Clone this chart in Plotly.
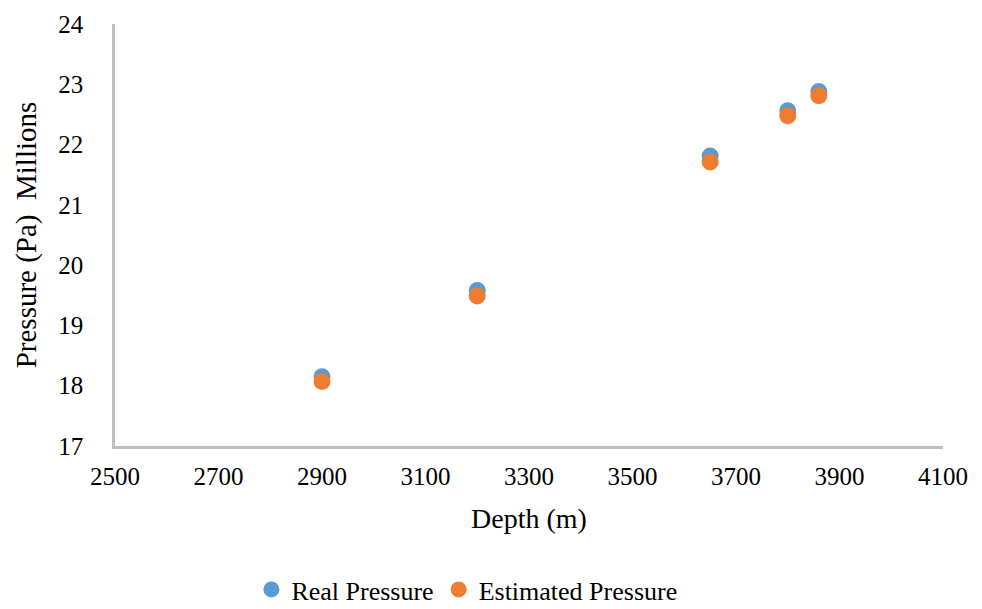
import plotly.graph_objects as go

depth = [2900, 3200, 3650, 3800, 3860]
real_pressure = [18.15, 19.58, 21.81, 22.56, 22.88]
estimated_pressure = [18.07, 19.49, 21.71, 22.48, 22.81]

x_ticks = [2500, 2700, 2900, 3100, 3300, 3500, 3700, 3900, 4100]
y_ticks = [17, 18, 19, 20, 21, 22, 23, 24]

FONT = "Liberation Serif, Times New Roman, serif"

fig = go.Figure()
fig.add_trace(go.Scatter(
    x=depth, y=real_pressure, mode="markers", name="Real Pressure",
    marker=dict(color="#5B9BD5", size=17, line=dict(width=0)),
))
fig.add_trace(go.Scatter(
    x=depth, y=estimated_pressure, mode="markers", name="Estimated Pressure",
    marker=dict(color="#ED7D31", size=17, line=dict(width=0)),
))

fig.update_layout(
    width=982, height=609,
    margin=dict(l=115, r=39, t=24, b=163, autoexpand=False),
    paper_bgcolor="white", plot_bgcolor="white",
    font=dict(family=FONT, size=24, color="black"),
    showlegend=True,
    legend=dict(
        orientation="h", x=0.425, xanchor="center", y=-0.34, yanchor="middle",
        font=dict(family=FONT, size=26), itemwidth=30, tracegroupgap=0,
    ),
    xaxis=dict(
        range=[2500, 4100], tickvals=x_ticks, ticktext=[str(v) for v in x_ticks],
        showgrid=False, zeroline=False, showline=True, linecolor="#BFBFBF", linewidth=2.5,
        ticks="", ticklabelstandoff=6, automargin=False,
        tickfont=dict(family=FONT, size=25),
        title=dict(text="Depth (m)", font=dict(family=FONT, size=28), standoff=20),
    ),
    yaxis=dict(
        range=[17, 24], tickvals=y_ticks, ticktext=[str(v) for v in y_ticks],
        showgrid=False, zeroline=False, showline=True, linecolor="#BFBFBF", linewidth=2.5,
        ticks="", ticklabelstandoff=24, automargin=False,
        tickfont=dict(family=FONT, size=25),
        title=dict(text="Pressure (Pa)  Millions", font=dict(family=FONT, size=29), standoff=14),
    ),
)

fig.write_html("out.html")
